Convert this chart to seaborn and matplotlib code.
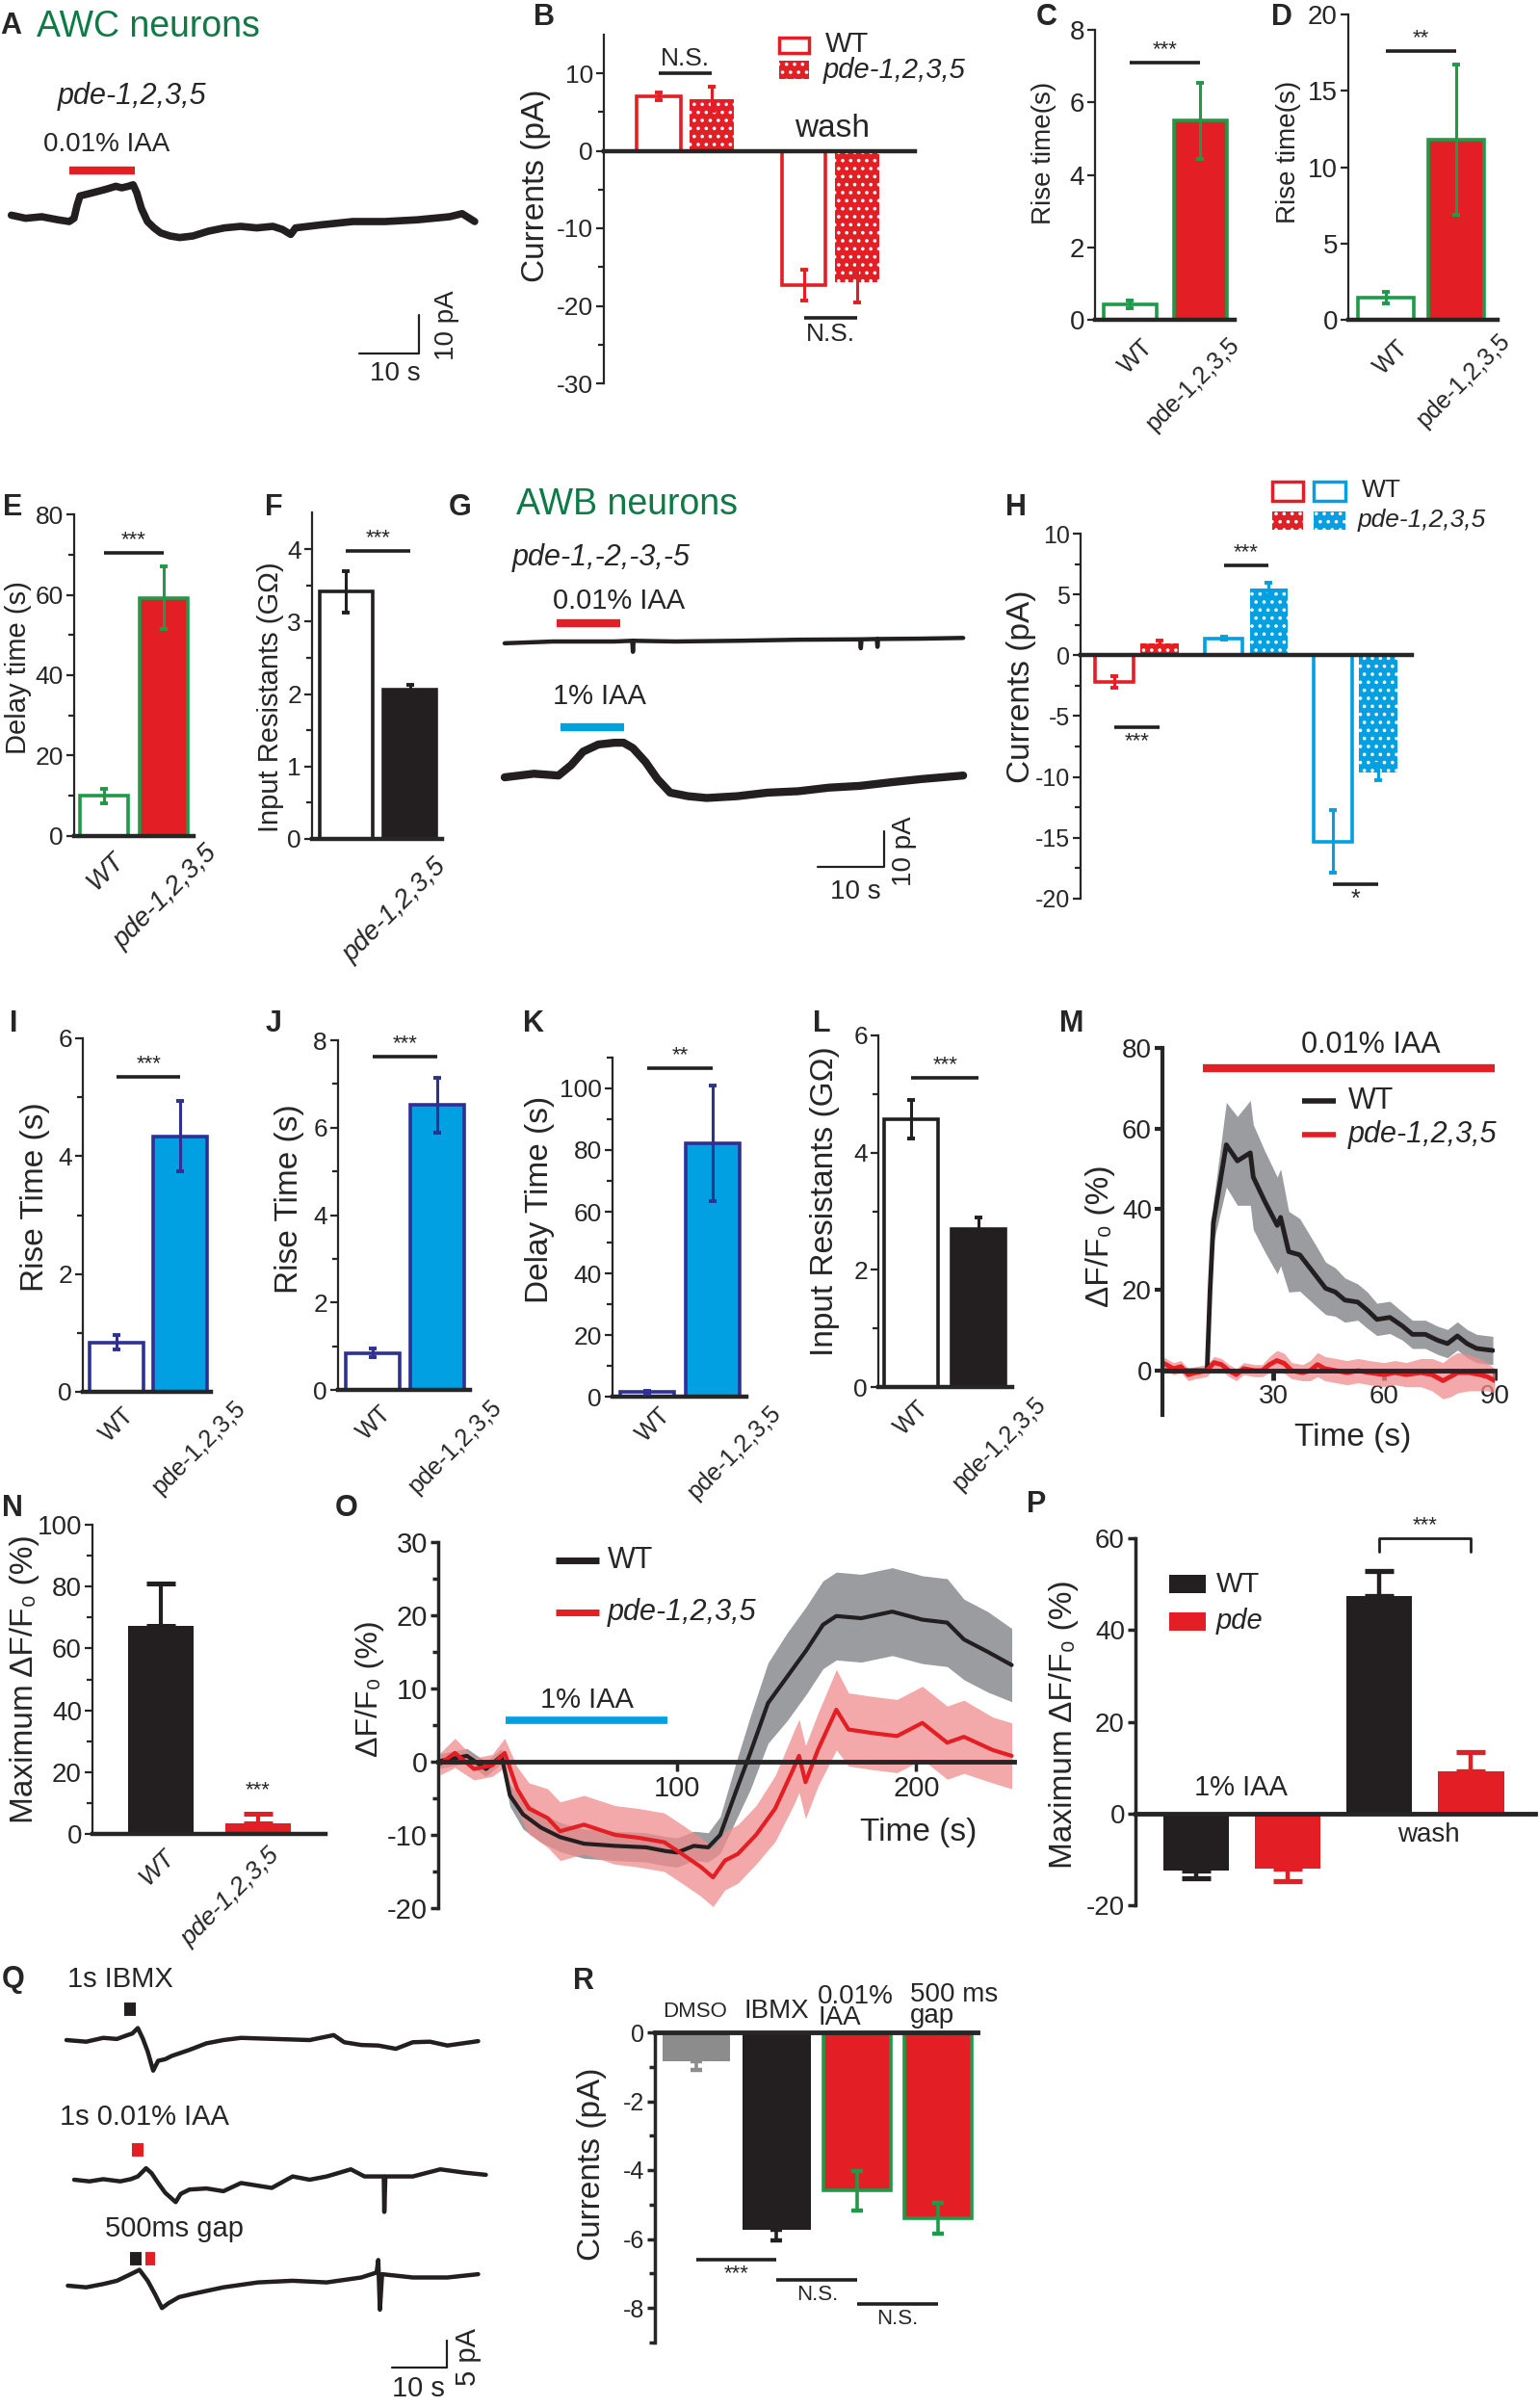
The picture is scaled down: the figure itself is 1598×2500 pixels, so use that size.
import numpy as np
import pandas as pd
import seaborn as sns
import matplotlib.pyplot as plt
from matplotlib.patches import Rectangle
from matplotlib.lines import Line2D

sns.set_style('ticks')
REG = ['Liberation Sans', 'DejaVu Sans']
NAR = ['Liberation Sans Narrow', 'Liberation Sans', 'DejaVu Sans']
plt.rcParams['font.family'] = REG
plt.rcParams['hatch.linewidth'] = 1.4

RED = '#e31e24'
BLUE = '#00a0e3'
NAVY = '#2e3192'
GREEN = '#1f9a48'
DARK = '#231f20'
GREY = '#8c8c8c'
TITLE_GREEN = '#0e7a46'
HATCH = '..'

# ---- data ----
# A: AWC trace (s, pA)
a_t = [-0.2, 2.2, 4.9, 7.6, 9.5, 10.3, 10.8, 11.3, 13.5, 15.6, 17.3, 18.3, 19.4, 20.2, 20.8, 21.6, 22.6,
       23.7, 24.8, 26.4, 28, 30.2, 32.8, 35.5, 38.2, 40.9, 43.6, 45.2, 46.6, 47.4, 51.7, 57, 62.4, 67.8,
       73.2, 75.3, 77.4]
a_pa = [0.9, 0.1, 0.5, -0.3, -0.75, 0.1, 3.4, 5.9, 6.75, 7.6, 8.4, 8, 8.4, 8.8, 6.75, 2.6, -0.75,
        -2.4, -3.7, -4.5, -4.9, -4.5, -3.25, -2.4, -2, -2.4, -2, -2.8, -4.1, -2.4, -1.6, -0.75, -0.75,
        -0.3, 0.5, 1.3, -0.75]
a_iaa = [9.5, 20.5]

# B: currents, AWC
b_groups = ['IAA', 'IAA', 'wash', 'wash']
b_geno = ['WT', 'pde', 'WT', 'pde']
b_vals = [7.0, 6.7, -17.3, -16.9]
b_errs = [0.5, 1.5, 2.0, 2.7]

# C, D: rise time
geno = ['WT', 'pde-1,2,3,5']
c_vals = [0.42, 5.5]
c_errs = [0.1, 1.05]
d_vals = [1.45, 11.8]
d_errs = [0.35, 4.9]

# E, F
e_vals = [10.0, 59.2]
e_errs = [1.8, 7.8]
f_vals = [3.41, 2.06]
f_errs = [0.29, 0.07]

# G: AWB traces
g1_t = [0, 7.3, 16.5, 19.2, 19.3, 19.4, 25.7, 35, 44.2, 53.5, 53.6, 53.7, 56, 56.1, 56.2, 62.7, 69]
g1_pa = [-0.5, 0, 0, 0.2, -2.9, 0.2, 0, 0.2, 0.5, 0.6, -1.9, 0.6, 0.7, -1.5, 0.7, 0.8, 1]
g2_t = [0, 4.4, 8.1, 10, 11.8, 14.1, 16.5, 17.9, 19.3, 21.2, 23, 24.9, 27.6, 30.4, 35, 39.6, 44.2,
        48.8, 53.5, 58.1, 62.7, 69]
g2_pa = [0, 1, 0.5, 3.4, 7.2, 9.2, 9.7, 9.7, 8.2, 4.3, -0.5, -4.3, -5.3, -5.8, -5.3, -4.3, -3.9,
         -2.9, -2.4, -1.4, -0.5, 0.5]
g_iaa_low = [7.8, 17.4]
g_iaa_high = [8.4, 18.0]

# H: currents, AWB
h_groups = ['0.01%', '0.01%', '1%', '1%', 'wash', 'wash']
h_geno = ['WT', 'pde', 'WT', 'pde', 'WT', 'pde']
h_vals = [-2.2, 0.95, 1.4, 5.45, -15.3, -9.6]
h_errs = [0.5, 0.25, 0.12, 0.5, 2.6, 0.7]

# I-L
i_vals = [0.84, 4.34]
i_errs = [0.12, 0.6]
j_vals = [0.84, 6.52]
j_errs = [0.1, 0.63]
k_vals = [1.5, 82.2]
k_errs = [0.5, 18.7]
l_vals = [4.57, 2.7]
l_errs = [0.33, 0.2]

# M: calcium imaging, 0.01% IAA
m_t = [0, 3, 6, 9, 12.1, 12.9, 13.8, 17.3, 20.3, 23.8, 24.6, 27.7, 31.1, 32, 34.2, 37.2, 41.6, 44.2,
       46.8, 49.4, 52.9, 55.5, 58.1, 61.6, 65.1, 67.7, 71.2, 74.6, 77.2, 79.9, 82.5, 85.1, 89.5]
m_wt = [0, 0, 0, 0, 0, 20, 36.7, 56, 52, 54, 48, 42, 36, 38, 29.5, 28.7, 23.5, 20.4, 19.5, 17.5, 17,
        15, 12.7, 13.2, 11, 9, 9, 7.5, 6.7, 8.6, 6.7, 5.5, 5]
m_wt_sem = [0, 0, 0, 0, 0, 2, 5, 10.5, 11, 13, 13, 12.5, 12, 12, 10, 9, 7.5, 6.5, 6, 5.5, 4.5, 4.5, 4,
            4, 3.5, 3.5, 3.5, 3.5, 3.5, 3.5, 3.5, 3.5, 3.5]
m_pde_t = [0, 3, 5, 7, 9, 12, 14, 16, 18, 20, 22, 25, 27, 29, 31, 33, 35, 38, 40, 42, 44, 47, 50, 53,
           56, 60, 63, 66, 70, 73, 76, 78, 80, 83, 86, 88, 90]
m_pde = [2, 0.5, 1, -1, -0.5, 0, 2, 1.5, 0, -1, 0.5, 0, 0, 1.5, 2.5, 1.8, 0, -0.5, 0, 1.5, 0.5, 0,
         -0.5, 0, -0.5, -1, -0.5, -1, -0.5, -1, -2.5, -1.5, -0.5, -0.5, -1, -1.5, -2.5]
m_pde_sem = [1.5] * 13 + [2, 2.5, 2.5, 2, 2, 2.5, 3, 3, 3, 3, 3, 3, 3, 3, 3, 3.5, 4, 4.5, 5, 5, 4.5,
                          4, 3.5, 3]
m_iaa = [11, 90]

# N
n_vals = [67.4, 3.4]
n_errs = [13.6, 3.0]

# O: calcium imaging, 1% IAA
o_wt_t = [0.8, 12, 20, 26.5, 30, 35.5, 43, 51, 61, 74, 87, 95, 100, 107, 113, 118, 125, 130.6, 138,
          146, 154, 161, 166.6, 177, 190, 202.6, 213, 220, 230, 240]
o_wt = [0.1, 0.8, -1, 0.8, -4.6, -7.2, -9, -10.3, -11.2, -11.5, -11.7, -12.2, -12.4, -11.5, -11.7,
        -10, -3.7, 1.2, 8, 11.6, 15.2, 18.7, 19.9, 19.6, 20.5, 19.4, 19, 16.7, 15, 13.2]
o_wt_sem = [1, 1, 1, 1, 1.5, 2, 2, 2, 2, 2, 2, 2, 2, 2, 2, 2.5, 4, 5, 5.5, 6, 6, 6, 6, 6, 6, 6, 6,
            5.5, 5.5, 5]
o_pde_t = [0.8, 7, 15, 22.6, 27.8, 33, 38, 45.8, 51, 61, 74, 84, 94.6, 102, 110, 115, 120, 125.4,
           133, 141, 148.6, 151, 153.7, 159, 166.6, 171.7, 182, 192, 202.6, 213, 220, 232, 240]
o_pde = [-0.3, 1.2, -1, -0.5, 1.2, -3.7, -6.4, -7.7, -9.5, -8.6, -10, -10.4, -11, -12.6, -14.4,
         -15.8, -13.5, -12.6, -10, -6.4, -1, 0.8, -2.8, 1.7, 7.1, 4.4, 3.9, 3.5, 5.3, 2.6, 3.4, 1.6,
         0.8]
o_pde_sem = [1.5, 2, 1.5, 1.5, 2, 3, 3.5, 4, 4, 4, 4, 4, 4, 4, 4, 4, 4, 4, 4, 4.5, 5, 5, 5, 5, 5.5,
             5, 5, 5, 5, 5, 5, 4.5, 4.5]
o_iaa = [28.4, 96]

# P
p_groups = ['1% IAA', '1% IAA', 'wash', 'wash']
p_geno = ['WT', 'pde', 'WT', 'pde']
p_vals = [-12.4, -12.0, 47.3, 9.2]
p_errs = [1.7, 2.7, 5.6, 4.2]

# Q: traces
q1_t = [0, 3.6, 6.7, 9.2, 11.1, 12, 13, 13.9, 14.8, 15.8, 16.7, 18, 19.2, 22.4, 25.5, 28.6, 31.8, 38,
        44.3, 48.7, 50.6, 53.7, 56.8, 60, 63.1, 66.2, 69.4, 75]
q1_pa = [0, -0.3, 0.4, 0.2, 0.9, 1.2, 2.2, 0.3, -2.1, -5.6, -3.8, -3.5, -2.9, -1.8, -0.6, 0, 0.4, 0.2,
         0, 0.9, -0.4, -0.9, -1, -1.6, -0.4, -0.3, -1, -0.2]
q2_t = [1.4, 4.2, 6.7, 9.8, 11.7, 13, 14.5, 15.5, 16.7, 18, 19.9, 20.8, 22.4, 25.5, 28.6, 31.8, 34.9,
        37.4, 41.2, 44.3, 47.4, 51.8, 54.3, 57.8, 57.9, 58.1, 63.1, 68.1, 72.5, 76.4]
q2_pa = [0, -0.3, 0.1, -0.3, 0.1, 0.6, 2.1, 1.2, -0.6, -2.4, -4.1, -2.6, -1.8, -1.6, -2.1, -0.6, -1.1,
         -1.5, 0.6, 0, 0.6, 1.9, 0.6, 0.6, -5.9, 0.6, 0.6, 1.9, 1.3, 0.9]
q3_t = [0.25, 3.6, 6.7, 9.2, 11.7, 13.3, 14.8, 16.1, 17.4, 18.6, 20.5, 23, 28.6, 34.9, 41.2, 47.4,
        53.7, 56.5, 56.8, 57.1, 57.5, 63.1, 69.4, 75]
q3_pa = [0, -0.3, 0.3, 0.9, 2.1, 2.9, 0.9, -1.5, -4.1, -3.2, -2.1, -1.5, -0.3, 0.6, 0.9, 0.6, 1.5,
         2.4, 4.7, -4.4, 2.1, 1.5, 1.5, 2.1]
q_ibmx = [10.6, 12.7]
q_iaa = [12.0, 14.1]
q_gap_ibmx = [11.6, 13.6]
q_gap_iaa = [14.3, 16.1]

# R
r_cats = ['DMSO', 'IBMX', '0.01% IAA', '500 ms gap']
r_vals = [-0.84, -5.73, -4.6, -5.4]
r_errs = [(0.24, 0), (0.32, 0), 0.58, 0.45]

# ---- figure helpers ----
W, H = 1598, 2500
fig = plt.figure(figsize=(W / 100, H / 100), dpi=100)


def axes_px(x0, x1, y0, y1):
    ax = fig.add_axes([x0 / W, 1 - y1 / H, (x1 - x0) / W, (y1 - y0) / H])
    ax.patch.set_alpha(0)
    return ax


def make_ax(x0, x1, ylim, yref):
    (v1, p1), (v2, p2) = yref
    k = (p2 - p1) / (v2 - v1)
    ax = axes_px(x0, x1, p1 + (ylim[1] - v1) * k, p1 + (ylim[0] - v1) * k)
    ax.set_ylim(*ylim)
    return ax


def trace_ax(x0, x1, y0, y1, xr, yr, ppx, ppy):
    ax = axes_px(x0, x1, y0, y1)
    ax.set_xlim((x0 - xr) / ppx, (x1 - xr) / ppx)
    ax.set_ylim((yr - y1) / ppy, (yr - y0) / ppy)
    ax.axis('off')
    return ax


def txt(x, y, s, size=17, ha='center', va='center', family=REG, **kw):
    fig.text(x / W, 1 - y / H, s, size=size, ha=ha, va=va, family=family, **kw)


def letter(x, y, s):
    txt(x, y, s, size=22, weight='bold')


def key_box(x0, y0, x1, y1, face, edge='none', lw=0, hatch=None):
    fig.add_artist(Rectangle((x0 / W, 1 - y1 / H), (x1 - x0) / W, (y1 - y0) / H,
                             transform=fig.transFigure, facecolor=face, edgecolor=edge, lw=lw,
                             hatch=hatch))


def key_line(x0, x1, y, color, lw=4):
    fig.add_artist(Line2D([x0 / W, x1 / W], [1 - y / H, 1 - y / H], color=color, lw=lw,
                          solid_capstyle='butt'))


def fmt(v):
    return ('%g' % v).replace('\u2212', '-')


def style_axis(ax, yticks, minor=None, tick_font=NAR, tick_size=19, spine_lw=1.6, zero_lw=3.2):
    sns.despine(ax=ax)
    ax.spines['left'].set_linewidth(spine_lw)
    ax.spines['bottom'].set_position(('data', 0))
    ax.spines['bottom'].set_linewidth(zero_lw)
    ax.set_xlabel('')
    ax.set_ylabel('')
    ax.set_yticks(yticks, [fmt(v) for v in yticks], family=tick_font, size=tick_size)
    if minor:
        ax.set_yticks(minor, minor=True)
    ax.tick_params(axis='y', which='major', length=6, width=spine_lw, pad=2)
    ax.tick_params(axis='y', which='minor', length=4, width=spine_lw)


def bar_panel(x0, x1, ylim, yref, xlim, width, groups, vals, errs, faces, edges, ecolors,
              hue=None, gap=0, hatch=None, lw=2.6, cap=3, elw=2.2, **axkw):
    ax = make_ax(x0, x1, ylim, yref)
    df = pd.DataFrame({'group': groups, 'val': vals, 'hue': hue if hue is not None else groups})
    sns.barplot(data=df, x='group', y='val', hue='hue', width=width, gap=gap,
                dodge=hue is not None, errorbar=None, legend=False, ax=ax)
    bars = sorted(ax.patches, key=lambda p: p.get_x())
    centers = []
    for i, p in enumerate(bars):
        p.set_facecolor(faces[i])
        p.set_edgecolor(edges[i])
        p.set_linewidth(0 if edges[i] == 'none' else lw)
        if hatch and hatch[i]:
            p.set_hatch(hatch[i])
            p.set_edgecolor('white')
            p.set_linewidth(0)
        cx = p.get_x() + p.get_width() / 2
        centers.append(cx)
        e = errs[i]
        lo, hi = e if isinstance(e, tuple) else (e, e)
        ax.errorbar(cx, vals[i], yerr=[[lo], [hi]], fmt='none', ecolor=ecolors[i],
                    elinewidth=elw, capsize=cap, capthick=elw + 0.6, zorder=3)
    ax.set_xlim(*xlim)
    style_axis(ax, **axkw)
    ax.set_xticks([])
    return ax, centers


# rotated category labels; (dx, dy) put the upper-right tip relative to bar centre on the zero line
def xlabels(ax, centers, labels, offsets, italic=False, size=18, family=NAR):
    for cx, lab, (dx, dy) in zip(centers, labels, offsets):
        x, y = ax.transData.transform((cx, 0))
        fig.text((x + dx) / W, (y - dy) / H, lab, rotation=45, ha='right', va='top',
                 rotation_mode='anchor', size=size, family=family,
                 style='italic' if italic else 'normal')


def sig(ax, c, i, j, y, label, below=False, size=16, family=NAR):
    ax.plot([c[i], c[j]], [y, y], color=DARK, lw=2.6, solid_capstyle='butt', clip_on=False)
    ax.annotate(label, ((c[i] + c[j]) / 2, y), xytext=(0, -3 if below else 2),
                textcoords='offset points', ha='center', va='top' if below else 'bottom',
                size=size, family=family)


# ---- A ----
letter(11, 27, 'A')
txt(38, 28, 'AWC neurons', size=27, ha='left', color=TITLE_GREEN)
txt(137, 100, 'pde-1,2,3,5', size=22, style='italic')
txt(111, 150, '0.01% IAA', size=20)
ax = trace_ax(0, 520, 120, 400, 13, 227, 6.2, 4.0)
sns.lineplot(x=a_t, y=a_pa, color=DARK, lw=5.5, estimator=None, sort=False, ax=ax)
ax.plot(a_iaa, [12.5, 12.5], color=RED, lw=6, solid_capstyle='butt')
ax.plot([58.1, 68.1, 68.1], [-35, -35, -25], color=DARK, lw=1.6)
txt(410, 388, '10 s', size=20)
txt(464, 338, '10 pA', rotation=90, size=20)

# ---- B ----
letter(565, 18, 'B')
ax, c = bar_panel(627, 950, (-30, 15), ((10, 76), (-30, 398)), (-0.56, 1.58), 0.73, b_groups,
                  b_vals, b_errs, ['white', RED, 'white', RED], [RED, 'white', RED, 'white'],
                  [RED] * 4, hue=b_geno, gap=0.18, hatch=[None, HATCH, None, HATCH],
                  yticks=[-30, -20, -10, 0, 10], minor=[-25, -15, -5, 5])
sig(ax, c, 0, 1, 10, 'N.S.', size=19)
sig(ax, c, 2, 3, -21.6, 'N.S.', below=True, size=19)
txt(556, 193, 'Currents (pA)', size=24, rotation=90)
txt(864, 133, 'wash', size=24, family=NAR)
key_box(809, 39, 840, 55, 'white', RED, 2.5)
key_box(809, 63, 840, 82, RED, 'white', 0, HATCH)
txt(857, 46, 'WT', ha='left', size=21, family=NAR)
txt(855, 73, 'pde-1,2,3,5', ha='left', size=21, family=NAR, style='italic')

# ---- C ----
letter(1087, 18, 'C')
ax, c = bar_panel(1137, 1282, (0, 8), ((8, 31), (0, 332)), (-0.5, 1.49), 0.75, geno, c_vals,
                  c_errs, ['white', RED], [GREEN, GREEN], [GREEN, GREEN], yticks=[0, 2, 4, 6, 8],
                  tick_size=20)
sig(ax, c, 0, 1, 7.1, '***')
xlabels(ax, c, geno, [(12, 16), (28, 14)])
txt(1084, 159, 'Rise time(s)', size=20, rotation=90)

# ---- D ----
letter(1331, 18, 'D')
ax, c = bar_panel(1400, 1555, (0, 20), ((20, 15), (0, 332)), (-0.54, 1.59), 0.8, geno, d_vals,
                  d_errs, ['white', RED], [GREEN, GREEN], [GREEN, GREEN],
                  yticks=[0, 5, 10, 15, 20], tick_size=20)
sig(ax, c, 0, 1, 17.6, '**')
xlabels(ax, c, geno, [(11, 17), (44, 10)])
txt(1338, 158, 'Rise time(s)', size=20, rotation=90)

# ---- E ----
letter(13, 527, 'E')
ax, c = bar_panel(77, 201, (0, 80), ((80, 534), (0, 868)), (-0.5, 1.5), 0.8, geno, e_vals, e_errs,
                  ['white', RED], [GREEN, GREEN], [GREEN, GREEN], yticks=[0, 20, 40, 60, 80],
                  minor=[10, 30, 50, 70])
sig(ax, c, 0, 1, 70.4, '***')
xlabels(ax, c, geno, [(8, 12), (42, 5)], italic=True, size=20)
txt(19, 693, 'Delay time (s)', size=21, rotation=90)

# ---- F ----
letter(284, 527, 'F')
ax, c = bar_panel(324, 459, (0, 4.5), ((4, 570), (0, 871)), (-0.53, 1.5), 0.83, geno, f_vals,
                  f_errs, ['white', DARK], [DARK, DARK], [DARK, DARK], yticks=[0, 1, 2, 3, 4],
                  minor=[0.5, 1.5, 2.5, 3.5])
sig(ax, c, 0, 1, 3.97, '***')
xlabels(ax, c[1:], geno[1:], [(25, 16)], italic=True, size=20)
txt(281, 724, 'Input Resistants (G\u03a9)', size=21, rotation=90)

# ---- G ----
letter(478, 527, 'G')
txt(536, 524, 'AWB neurons', size=27, ha='left', color=TITLE_GREEN, family=NAR)
txt(532, 579, 'pde-1,-2,-3,-5', ha='left', size=22, family=NAR, style='italic')
txt(574, 624, '0.01% IAA', ha='left', size=21, family=NAR)
txt(574, 723, '1% IAA', ha='left', size=21, family=NAR)
ax = trace_ax(500, 1010, 600, 700, 524, 666, 6.9, 3.7)
sns.lineplot(x=g1_t, y=g1_pa, color=DARK, lw=3.2, estimator=None, sort=False, ax=ax)
ax.plot(g_iaa_low, [5.1, 5.1], color=RED, lw=6, solid_capstyle='butt')
ax = trace_ax(500, 1010, 730, 940, 524, 807, 6.9, 3.7)
sns.lineplot(x=g2_t, y=g2_pa, color=DARK, lw=6, estimator=None, sort=False, ax=ax)
ax.plot(g_iaa_high, [14, 14], color=BLUE, lw=6, solid_capstyle='butt')
ax.plot([47.1, 57.1, 57.1], [-25.1, -25.1, -15.1], color=DARK, lw=1.6)
txt(888, 926, '10 s', size=20, family=NAR)
txt(939, 884, '10 pA', rotation=90, size=20, family=NAR)

# ---- H ----
letter(1055, 527, 'H')
ax, c = bar_panel(1122, 1466, (-20, 10), ((10, 554), (-20, 933)), (-0.52, 2.52), 0.83, h_groups,
                  h_vals, h_errs, ['white', RED, 'white', BLUE, 'white', BLUE],
                  [RED, 'white', BLUE, 'white', BLUE, 'white'], [RED, RED, BLUE, BLUE, BLUE, BLUE],
                  hue=h_geno, gap=0.15, hatch=[None, HATCH, None, HATCH, None, HATCH],
                  yticks=[-20, -15, -10, -5, 0, 5, 10],
                  minor=[-17.5, -12.5, -7.5, -2.5, 2.5, 7.5], tick_font=REG, tick_size=18)
sig(ax, c, 0, 1, -5.9, '***', below=True, family=REG)
sig(ax, c, 2, 3, 7.4, '***', family=REG)
sig(ax, c, 4, 5, -18.8, '*', below=True, size=18, family=REG)
txt(1061, 713, 'Currents (pA)', size=24, rotation=90)
key_box(1321, 500, 1353, 520, 'white', RED, 2.5)
key_box(1364, 500, 1397, 520, 'white', BLUE, 2.5)
key_box(1321, 531, 1353, 550, RED, 'white', 0, HATCH)
key_box(1364, 531, 1397, 550, BLUE, 'white', 0, HATCH)
txt(1414, 509, 'WT', ha='left', size=19)
txt(1410, 540, 'pde-1,2,3,5', ha='left', size=19, style='italic')

# ---- I - L ----
letter(14, 1063, 'I')
ax, c = bar_panel(86, 219, (0, 6), ((6, 1078), (0, 1445)), (-0.53, 1.48), 0.85, geno, i_vals,
                  i_errs, ['white', BLUE], [NAVY, NAVY], [NAVY, NAVY], yticks=[0, 2, 4, 6],
                  minor=[1, 3, 5])
sig(ax, c, 0, 1, 5.35, '***')
xlabels(ax, c, geno, [(6, 12), (55, 5)])
txt(37, 1243, 'Rise Time (s)', size=24, rotation=90)

letter(284, 1063, 'J')
ax, c = bar_panel(351, 488, (0, 8), ((8, 1080), (0, 1443)), (-0.54, 1.51), 0.83, geno, j_vals,
                  j_errs, ['white', BLUE], [NAVY, NAVY], [NAVY, NAVY], yticks=[0, 2, 4, 6, 8],
                  minor=[1, 3, 5, 7])
sig(ax, c, 0, 1, 7.62, '***')
xlabels(ax, c, geno, [(7, 12), (55, 6)])
txt(300, 1245, 'Rise Time (s)', size=24, rotation=90)

letter(554, 1063, 'K')
ax, c = bar_panel(636, 775, (0, 110), ((100, 1130), (0, 1450)), (-0.53, 1.51), 0.82, geno, k_vals,
                  k_errs, ['white', BLUE], [NAVY, NAVY], [NAVY, NAVY],
                  yticks=[0, 20, 40, 60, 80, 100], minor=[10, 30, 50, 70, 90, 110])
sig(ax, c, 0, 1, 106.7, '**')
xlabels(ax, c, geno, [(12, 7), (58, 5)])
txt(561, 1245, 'Delay Time (s)', size=24, rotation=90)

letter(853, 1063, 'L')
ax, c = bar_panel(912, 1051, (0, 6), ((6, 1075), (0, 1440)), (-0.49, 1.5), 0.8, geno, l_vals,
                  l_errs, ['white', DARK], [DARK, DARK], [DARK, DARK], yticks=[0, 2, 4, 6],
                  minor=[1, 3, 5])
sig(ax, c, 0, 1, 5.28, '***')
xlabels(ax, c, geno, [(6, 10), (58, 6)])
txt(856, 1247, 'Input Resistants (G\u03a9)', size=24, rotation=90)

# ---- M ----
letter(1113, 1063, 'M')
ax = make_ax(1207, 1552, (-11, 80), ((0, 1423), (80, 1088)))
ax.set_xlim(0, 90)
wt_lo = np.array(m_wt) - np.array(m_wt_sem)
wt_hi = np.array(m_wt) + np.array(m_wt_sem)
ax.fill_between(m_t, wt_lo, wt_hi, color='#9b9ca0', lw=0)
sns.lineplot(x=m_t, y=m_wt, color=DARK, lw=3.5, estimator=None, sort=False, ax=ax)
pde_lo = np.array(m_pde) - np.array(m_pde_sem)
pde_hi = np.array(m_pde) + np.array(m_pde_sem)
ax.fill_between(m_pde_t, pde_lo, pde_hi, color='#f08c8c', alpha=0.75, lw=0)
sns.lineplot(x=m_pde_t, y=m_pde, color=RED, lw=3.5, estimator=None, sort=False, ax=ax)
ax.plot(m_iaa, [75, 75], color=RED, lw=6, solid_capstyle='butt')
style_axis(ax, [0, 20, 40, 60, 80], tick_font=REG, tick_size=20, spine_lw=3, zero_lw=3.5)
ax.set_xticks([30, 60, 90], ['30', '60', '90'], family=REG, size=20)
ax.tick_params(axis='x', length=7, width=3.5, pad=3)
txt(1423, 1085, '0.01% IAA', size=22)
key_line(1352, 1387, 1143, DARK)
key_line(1352, 1387, 1178, RED)
txt(1400, 1143, 'WT', ha='left', size=22)
txt(1400, 1178, 'pde-1,2,3,5', ha='left', size=22, style='italic')
txt(1405, 1492, 'Time (s)', size=24)
txt(1143, 1283, '\u0394F/F\u2080 (%)', size=24, rotation=90)

# ---- N ----
letter(13, 1566, 'N')
ax, c = bar_panel(96, 338, (0, 100), ((100, 1583), (0, 1904)), (-0.70, 1.69), 0.67, geno, n_vals,
                  [(0, n_errs[0]), (0, n_errs[1])], [DARK, RED], ['none', 'none'], [DARK, RED],
                  cap=11, elw=3, yticks=[0, 20, 40, 60, 80, 100], minor=[10, 30, 50, 70, 90],
                  tick_size=20)
ax.annotate('***', (c[1], n_vals[1] + n_errs[1]), xytext=(0, 10), textcoords='offset points',
            ha='center', va='bottom', size=16, family=NAR)
xlabels(ax, c, geno, [(2, 12), (10, 10)], italic=True, size=19)
txt(26, 1743, 'Maximum \u0394F/F\u2080 (%)', size=24, rotation=90)

# ---- O ----
letter(360, 1566, 'O')
ax = make_ax(455, 1053, (-20, 30), ((30, 1601), (-20, 1981)))
ax.set_xlim(0, 241)
ax.fill_between(o_wt_t, np.array(o_wt) - np.array(o_wt_sem), np.array(o_wt) + np.array(o_wt_sem),
                color='#9b9ca0', lw=0)
sns.lineplot(x=o_wt_t, y=o_wt, color=DARK, lw=3, estimator=None, sort=False, ax=ax)
ax.fill_between(o_pde_t, np.array(o_pde) - np.array(o_pde_sem),
                np.array(o_pde) + np.array(o_pde_sem), color='#f08c8c', alpha=0.75, lw=0)
sns.lineplot(x=o_pde_t, y=o_pde, color=RED, lw=3, estimator=None, sort=False, ax=ax)
ax.plot(o_iaa, [5.6, 5.6], color=BLUE, lw=5.5, solid_capstyle='butt')
style_axis(ax, [-20, -10, 0, 10, 20, 30], minor=[-15, -5, 5, 15, 25], tick_size=21, spine_lw=2.5,
           zero_lw=3.5)
ax.set_xticks([100, 200], ['100', '200'], family=NAR, size=21)
ax.tick_params(axis='x', length=7, width=2.5, pad=3)
txt(384, 1753, '\u0394F/F\u2080 (%)', size=23, rotation=90, family=NAR)
key_line(577, 622, 1620, DARK, lw=5)
key_line(577, 622, 1674, RED, lw=5)
txt(631, 1620, 'WT', ha='left', size=22, family=NAR)
txt(631, 1674, 'pde-1,2,3,5', ha='left', size=22, family=NAR, style='italic')
txt(609, 1765, '1% IAA', size=21, family=NAR)
txt(893, 1902, 'Time (s)', ha='left', size=24, family=NAR)

# ---- P ----
letter(1076, 1562, 'P')
p_side = [(p_errs[0], 0), (p_errs[1], 0), (0, p_errs[2]), (0, p_errs[3])]
ax, c = bar_panel(1179, 1594, (-20, 60), ((60, 1597), (-20, 1978)), (-0.58, 1.6), 1.0, p_groups,
                  p_vals, p_side, [DARK, RED, DARK, RED], ['none'] * 4, [DARK, RED, DARK, RED],
                  hue=p_geno, gap=0.28, cap=11, elw=3.2, yticks=[-20, 0, 20, 40, 60],
                  tick_font=REG, tick_size=20, spine_lw=2.5, zero_lw=3.5)
ax.plot([c[2], c[2], c[3], c[3]], [57, 60, 60, 57], color=DARK, lw=2, clip_on=False)
ax.annotate('***', ((c[2] + c[3]) / 2, 60), xytext=(0, 2), textcoords='offset points',
            ha='center', va='bottom', size=16)
txt(1105, 1790, 'Maximum \u0394F/F\u2080 (%)', size=24, rotation=90)
key_box(1214, 1635, 1252, 1654, DARK)
key_box(1214, 1674, 1252, 1693, RED)
txt(1263, 1645, 'WT', ha='left', size=21)
txt(1263, 1683, 'pde', ha='left', size=21, style='italic')
txt(1288, 1856, '1% IAA', size=21)
txt(1483, 1905, 'wash', size=20)

# ---- Q ----
letter(14, 2055, 'Q')
txt(70, 2055, '1s IBMX', ha='left', size=21)
txt(62, 2198, '1s 0.01% IAA', ha='left', size=21)
txt(109, 2314, '500ms gap', ha='left', size=21)
ax = trace_ax(50, 520, 2060, 2190, 69, 2118, 5.7, 5.67)
sns.lineplot(x=q1_t, y=q1_pa, color=DARK, lw=3.2, estimator=None, sort=False, ax=ax)
ax.plot(q_ibmx, [5.6, 5.6], color=DARK, lw=10, solid_capstyle='butt')
ax = trace_ax(50, 520, 2190, 2320, 69, 2263, 5.7, 5.67)
sns.lineplot(x=q2_t, y=q2_pa, color=DARK, lw=3.2, estimator=None, sort=False, ax=ax)
ax.plot(q_iaa, [5.4, 5.4], color=RED, lw=10, solid_capstyle='butt')
ax = trace_ax(50, 520, 2320, 2500, 69, 2373, 5.7, 5.67)
sns.lineplot(x=q3_t, y=q3_pa, color=DARK, lw=3.2, estimator=None, sort=False, ax=ax)
ax.plot(q_gap_ibmx, [5.0, 5.0], color=DARK, lw=10, solid_capstyle='butt')
ax.plot(q_gap_iaa, [5.0, 5.0], color=RED, lw=10, solid_capstyle='butt')
ax.plot([59.3, 69.3, 69.3], [-15, -15, -10], color=DARK, lw=1.6)
txt(434, 2480, '10 s', size=21)
txt(486, 2447, '5 pA', rotation=90, size=21)

# ---- R ----
letter(606, 2057, 'R')
ax, c = bar_panel(680, 1015, (-9, 0), ((0, 2110), (-8, 2396)), (-0.51, 3.49), 0.84, r_cats, r_vals,
                  r_errs, [GREY, DARK, RED, RED], ['none', 'none', GREEN, GREEN],
                  [GREY, DARK, GREEN, GREEN], cap=4, elw=2.6, yticks=[-8, -6, -4, -2, 0],
                  minor=[-9, -7, -5, -3, -1], tick_font=REG, tick_size=18, spine_lw=2.5,
                  zero_lw=3.5)
sig(ax, c, 0, 1, -6.6, '***', below=True)
sig(ax, c, 1, 2, -7.2, 'N.S.', below=True, size=16, family=REG)
sig(ax, c, 2, 3, -7.9, 'N.S.', below=True, size=16, family=REG)
txt(614, 2247, 'Currents (pA)', size=24, rotation=90)
txt(722, 2088, 'DMSO', size=16)
txt(806, 2088, 'IBMX', size=20)
txt(849, 2084, '0.01%\nIAA', ha='left', size=20, linespacing=0.85)
txt(945, 2082, '500 ms\ngap', ha='left', size=20, linespacing=0.85)

fig.savefig('out.png', dpi=100, facecolor='white')
